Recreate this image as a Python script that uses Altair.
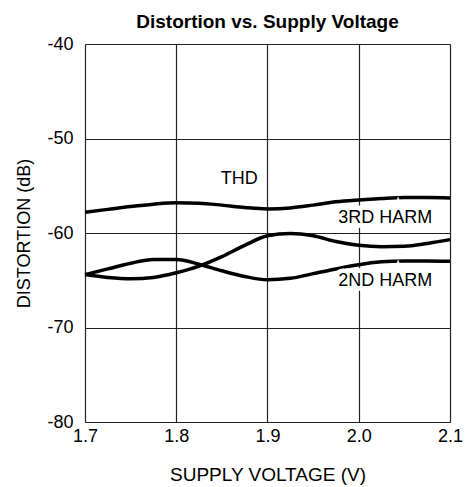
import altair as alt
import pandas as pd

volts = [1.7, 1.725, 1.75, 1.775, 1.8, 1.825, 1.85, 1.875, 1.9, 1.925, 1.95, 1.975, 2.0, 2.025, 2.05, 2.075, 2.1]
thd = [-57.8, -57.5, -57.2, -56.95, -56.8, -56.85, -57.05, -57.3, -57.45, -57.35, -57.05, -56.7, -56.5, -56.35, -56.25, -56.25, -56.3]
h3 = [-64.4, -64.7, -64.85, -64.7, -64.2, -63.5, -62.5, -61.3, -60.3, -60.05, -60.3, -60.9, -61.3, -61.45, -61.4, -61.1, -60.7]
h2 = [-64.4, -63.8, -63.2, -62.8, -62.8, -63.3, -64.0, -64.6, -64.95, -64.8, -64.3, -63.8, -63.35, -63.05, -62.95, -62.95, -63.0]

label_text = ["THD", "3RD HARM", "2ND HARM"]
label_v = [1.869, 2.029, 2.029]
label_db = [-54.3, -58.45, -65.05]

x_ticks = [1.7, 1.8, 1.9, 2.0, 2.1]
y_ticks = [-80, -70, -60, -50, -40]

rows = []
for name, ys in [("THD", thd), ("3RD HARM", h3), ("2ND HARM", h2)]:
    for v, d in zip(volts, ys):
        rows.append({"series": name, "v": v, "db": d})
df = pd.DataFrame(rows)
lab = pd.DataFrame({"text": label_text, "v": label_v, "db": label_db})

FONT = "Liberation Sans"

xscale = alt.Scale(domain=[1.7, 2.1], nice=False, zero=False)
yscale = alt.Scale(domain=[-80, -40], nice=False, zero=False)

lines = alt.Chart(df).mark_line(color="black", strokeWidth=3.5, interpolate="monotone").encode(
    x=alt.X("v:Q", scale=xscale,
            axis=alt.Axis(values=x_ticks, format=".1f", title="SUPPLY VOLTAGE (V)", grid=True,
                          gridColor="#222", gridWidth=1.2, domain=False, ticks=False,
                          labelPadding=5, labelFontSize=18, labelFont=FONT, labelColor="black",
                          titleFontSize=19, titleFont=FONT, titleFontWeight="normal", titleColor="black",
                          titlePadding=20, labelFlush=False)),
    y=alt.Y("db:Q", scale=yscale,
            axis=alt.Axis(values=y_ticks, title="DISTORTION (dB)", grid=True,
                          labelExpr="(datum.value < 0 ? '-' : '') + abs(datum.value)",
                          gridColor="#222", gridWidth=1.2, domain=False, ticks=False,
                          labelPadding=12, labelFontSize=18, labelFont=FONT, labelColor="black",
                          titleFontSize=18, titleFont=FONT, titleFontWeight="normal", titleColor="black",
                          titlePadding=13, labelFlush=False)),
    detail="series:N",
)

halo = alt.Chart(lab).mark_text(fontSize=18, font=FONT, stroke="white", strokeWidth=9,
                                fill="white", strokeJoin="miter").encode(
    x=alt.X("v:Q", scale=xscale), y=alt.Y("db:Q", scale=yscale), text="text:N")
text = alt.Chart(lab).mark_text(fontSize=18, font=FONT, color="black").encode(
    x=alt.X("v:Q", scale=xscale), y=alt.Y("db:Q", scale=yscale), text="text:N")

chart = alt.layer(lines, halo, text).properties(
    width=365, height=378,
    title=alt.Title("Distortion vs. Supply Voltage", fontSize=19, font=FONT, fontWeight="bold",
                    color="black", offset=3, anchor="middle"),
    autosize=alt.AutoSizeParams(type="none"),
    padding={"left": 77, "top": 36, "right": 14, "bottom": 65},
).configure_view(stroke="black", strokeWidth=2.2).configure(background="white")

chart.save("out.html", embed_options={"renderer": "svg", "actions": False})
